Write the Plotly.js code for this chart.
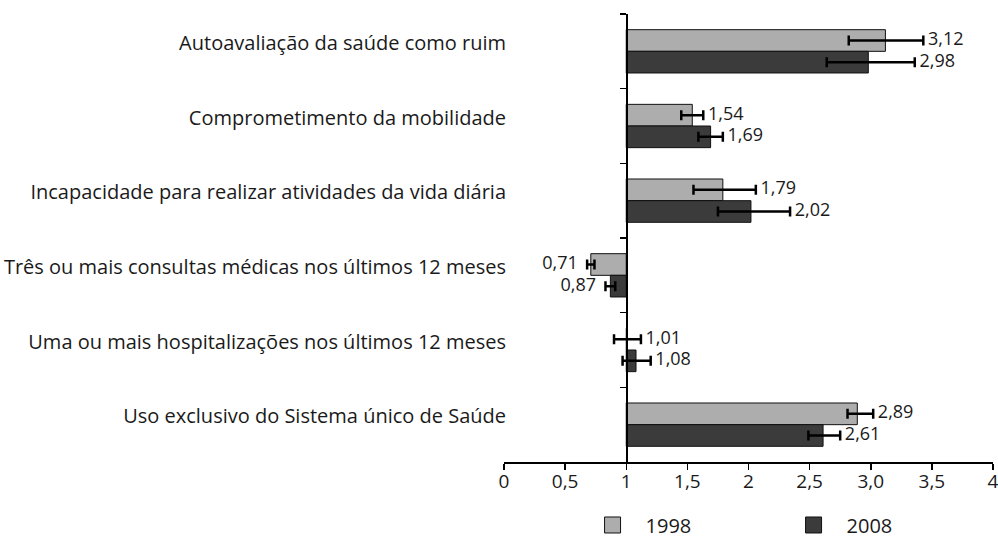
<!DOCTYPE html>
<html>
<head>
<meta charset="utf-8">
<script src="https://cdn.plot.ly/plotly-3.0.1.min.js"></script>
<style>html,body{margin:0;padding:0;background:#fff;}#chart{width:998px;height:540px;}</style>
</head>
<body>
<div id="chart"></div>
<script>
const categories = [
  "Autoavaliação da saúde como ruim",
  "Comprometimento da mobilidade",
  "Incapacidade para realizar atividades da vida diária",
  "Três ou mais consultas médicas nos últimos 12 meses",
  "Uma ou mais hospitalizações nos últimos 12 meses",
  "Uso exclusivo do Sistema único de Saúde"
];
const seriesNames = ["1998", "2008"];
const v1998  = [3.12, 1.54, 1.79, 0.71, 1.01, 2.89];
const lo1998 = [2.82, 1.45, 1.55, 0.68, 0.90, 2.81];
const hi1998 = [3.43, 1.63, 2.06, 0.74, 1.12, 3.02];
const v2008  = [2.98, 1.69, 2.02, 0.87, 1.08, 2.61];
const lo2008 = [2.64, 1.59, 1.75, 0.83, 0.97, 2.49];
const hi2008 = [3.36, 1.79, 2.34, 0.91, 1.20, 2.75];
const xTickVals = [0, 0.5, 1, 1.5, 2, 2.5, 3, 3.5, 4];
const xTickText = ["0", "0,5", "1", "1,5", "2", "2,5", "3,0", "3,5", "4"];
const refValue = 1;

const FONT = "Open Sans, Lato, sans-serif";
const TXT = "#1a1a1a";
const colors = ["#adadad", "#3b3b3b"];

function fmt(v){ return v.toFixed(2).replace(".", ","); }

function barTrace(vals, lo, hi, name, color){
  return {
    type: "bar", orientation: "h", name: name, showlegend: false,
    offsetgroup: name,
    y: categories, x: vals.map(v => v - refValue), base: refValue,
    marker: {color: color, line: {color: "#111", width: 1}},
    error_x: {type: "data", symmetric: false,
      array: hi.map((h, i) => h - vals[i]),
      arrayminus: lo.map((l, i) => vals[i] - l),
      color: "#000", thickness: 2.5, width: 5},
    hoverinfo: "skip"
  };
}
function labelTrace(vals, lo, hi, name){
  return {
    type: "scatter", mode: "text", orientation: "h", showlegend: false,
    offsetgroup: name,
    y: categories,
    x: vals.map((v, i) => v >= refValue ? hi[i] : lo[i]),
    text: vals.map(v => v >= refValue ? " " + fmt(v) : fmt(v) + "  "),
    textposition: vals.map(v => v >= refValue ? "middle right" : "middle left"),
    textfont: {family: FONT, size: 18, color: TXT},
    cliponaxis: false, hoverinfo: "skip"
  };
}
function legendTrace(name, color){
  return {
    type: "scatter", mode: "markers", name: name, yaxis: "y2",
    x: [null], y: [null],
    marker: {symbol: "square", size: 20, color: color, line: {color: "#111", width: 1}},
    hoverinfo: "skip"
  };
}

const data = [
  barTrace(v1998, lo1998, hi1998, seriesNames[0], colors[0]),
  barTrace(v2008, lo2008, hi2008, seriesNames[1], colors[1]),
  labelTrace(v1998, lo1998, hi1998, seriesNames[0]),
  labelTrace(v2008, lo2008, hi2008, seriesNames[1]),
  legendTrace(seriesNames[0], colors[0]),
  legendTrace(seriesNames[1], colors[1])
];

const layout = {
  width: 998, height: 540,
  margin: {l: 504, r: 5, t: 14, b: 78, autoexpand: false},
  paper_bgcolor: "#fff", plot_bgcolor: "#fff",
  barmode: "group", bargap: 0.42, bargroupgap: 0,
  scattermode: "group", scattergap: 0.42,
  font: {family: FONT, size: 20, color: TXT},
  xaxis: {
    range: [0, 4], domain: [0, 1],
    tickvals: xTickVals, ticktext: xTickText,
    showline: true, linecolor: "#000", linewidth: 1.5,
    ticks: "outside", ticklen: 6, tickwidth: 1.5, tickcolor: "#000",
    showgrid: false, zeroline: false,
    ticklabelstandoff: -4, ticklabeloverflow: "allow",
    tickfont: {family: FONT, size: 19, color: TXT}
  },
  yaxis: {
    type: "category", categoryorder: "array", categoryarray: categories,
    range: [5.5, -0.5],
    tickmode: "array",
    tickvals: categories.map((c, i) => i - 0.11),
    ticktext: categories,
    showline: false, ticks: "", showgrid: false, zeroline: false,
    tickfont: {family: FONT, size: 20, color: TXT},
    ticklabelstandoff: -3
  },
  yaxis2: {
    overlaying: "y", anchor: "free", position: 0.25,
    range: [5.5, -0.5], type: "linear",
    tickvals: [-0.5, 0.5, 1.5, 2.5, 3.5, 4.5],
    showticklabels: false, ticks: "outside", ticklen: 6, tickwidth: 1.5, tickcolor: "#000",
    showline: true, linecolor: "#000", linewidth: 1.5,
    showgrid: false, zeroline: false
  },
  showlegend: true,
  legend: {
    orientation: "h", x: 0.1545, xanchor: "left", y: -0.1406, yanchor: "middle",
    font: {family: FONT, size: 20, color: TXT},
    itemsizing: "trace", itemwidth: 56, entrywidth: 130, traceorder: "normal"
  }
};

Plotly.newPlot("chart", data, layout, {displayModeBar: false, staticPlot: true});
</script>
</body>
</html>
